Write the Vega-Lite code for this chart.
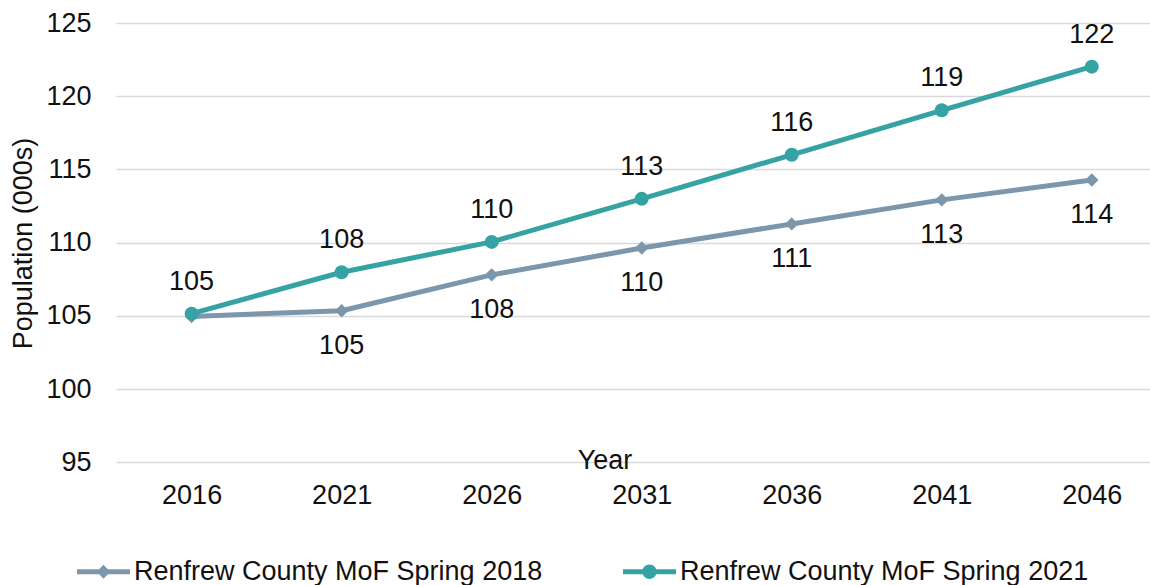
{
  "$schema": "https://vega.github.io/schema/vega-lite/v6.json",
  "width": 1034,
  "height": 439.3,
  "autosize": "none",
  "padding": {"left": 116, "top": 23, "right": 0, "bottom": 122.7},
  "background": "white",
  "config": {
    "font": "Liberation Sans",
    "view": {"stroke": null},
    "text": {"font": "Liberation Sans"}
  },
  "data": {
    "values": [
      {"year": 2016, "series": "Renfrew County MoF Spring 2018", "value": 104.96},
      {"year": 2021, "series": "Renfrew County MoF Spring 2018", "value": 105.35},
      {"year": 2026, "series": "Renfrew County MoF Spring 2018", "value": 107.8},
      {"year": 2031, "series": "Renfrew County MoF Spring 2018", "value": 109.63},
      {"year": 2036, "series": "Renfrew County MoF Spring 2018", "value": 111.28},
      {"year": 2041, "series": "Renfrew County MoF Spring 2018", "value": 112.92},
      {"year": 2046, "series": "Renfrew County MoF Spring 2018", "value": 114.28},
      {"year": 2016, "series": "Renfrew County MoF Spring 2021", "value": 105.15},
      {"year": 2021, "series": "Renfrew County MoF Spring 2021", "value": 107.98},
      {"year": 2026, "series": "Renfrew County MoF Spring 2021", "value": 110.05},
      {"year": 2031, "series": "Renfrew County MoF Spring 2021", "value": 112.99},
      {"year": 2036, "series": "Renfrew County MoF Spring 2021", "value": 116.0},
      {"year": 2041, "series": "Renfrew County MoF Spring 2021", "value": 119.04},
      {"year": 2046, "series": "Renfrew County MoF Spring 2021", "value": 122.02}
    ]
  },
  "encoding": {
    "x": {
      "field": "year",
      "type": "quantitative",
      "scale": {"domain": [2013.48, 2047.94], "nice": false, "zero": false},
      "axis": {
        "values": [2016, 2021, 2026, 2031, 2036, 2041, 2046],
        "format": "d",
        "grid": false,
        "domain": false,
        "ticks": false,
        "tickSize": 0,
        "labelPadding": 41,
        "labelBaseline": "alphabetic",
        "labelFontSize": 27,
        "labelColor": "#111111",
        "labelFont": "Liberation Sans",
        "title": "Year",
        "titleFont": "Liberation Sans",
        "titleFontSize": 27,
        "titleFontWeight": "normal",
        "titleColor": "#111111",
        "titleAnchor": null,
        "titleAlign": "center",
        "titleBaseline": "alphabetic",
        "titleX": 488.5,
        "titleY": 6
      }
    },
    "y": {
      "field": "value",
      "type": "quantitative",
      "scale": {"domain": [95, 125], "nice": false, "zero": false},
      "axis": {
        "values": [95, 100, 105, 110, 115, 120, 125],
        "grid": true,
        "gridColor": "#D9D9D9",
        "gridWidth": 1.4,
        "domain": false,
        "ticks": false,
        "tickSize": 0,
        "labelPadding": 25,
        "labelFontSize": 27,
        "labelColor": "#111111",
        "labelFont": "Liberation Sans",
        "title": "Population (000s)",
        "titleFont": "Liberation Sans",
        "titleFontSize": 27,
        "titleFontWeight": "normal",
        "titleColor": "#111111",
        "titleAngle": -90,
        "titleAlign": "center",
        "titleBaseline": "alphabetic",
        "titleX": -84.5,
        "titleY": 220
      }
    },
    "color": {
      "field": "series",
      "type": "nominal",
      "scale": {
        "domain": ["Renfrew County MoF Spring 2018", "Renfrew County MoF Spring 2021"],
        "range": ["#7C97AC", "#35A3A3"]
      },
      "legend": {
        "title": null,
        "orient": "none",
        "direction": "horizontal",
        "legendX": -39,
        "legendY": 522,
        "padding": 0,
        "columnPadding": 80,
        "symbolSize": 2809,
        "symbolStrokeWidth": 0,
        "symbolOpacity": 1,
        "labelFontSize": 27,
        "labelFont": "Liberation Sans",
        "labelColor": "#111111",
        "labelOffset": 4,
        "labelLimit": 600,
        "encode": {
          "symbols": {
            "update": {
              "fill": {"signal": "datum.value === 'Renfrew County MoF Spring 2018' ? '#7C97AC' : '#35A3A3'"},
              "fillOpacity": {"value": 1},
              "strokeWidth": {"value": 0},
              "shape": {"signal": "datum.value === 'Renfrew County MoF Spring 2018' ? 'M-1,-0.094H1V0.094H-1Z M0,-0.26L0.26,0L0,0.26L-0.26,0Z' : 'M-1,-0.094H1V0.094H-1Z M-0.27,0A0.27,0.27,0,1,1,0.27,0A0.27,0.27,0,1,1,-0.27,0Z'"}
            }
          }
        }
      }
    }
  },
  "layer": [
    {
      "mark": {"type": "line", "strokeWidth": 5, "strokeCap": "round", "strokeJoin": "round"}
    },
    {
      "transform": [
        {"filter": "datum.series === 'Renfrew County MoF Spring 2018'"}
      ],
      "mark": {"type": "point", "shape": "diamond", "filled": true, "opacity": 1, "size": 180, "strokeWidth": 0}
    },
    {
      "transform": [
        {"filter": "datum.series === 'Renfrew County MoF Spring 2021'"}
      ],
      "mark": {"type": "point", "shape": "circle", "filled": true, "opacity": 1, "size": 196, "strokeWidth": 0}
    },
    {
      "transform": [
        {"filter": "datum.series === 'Renfrew County MoF Spring 2021'"}
      ],
      "mark": {"type": "text", "fontSize": 27, "font": "Liberation Sans", "color": "#111111", "dy": -32, "baseline": "middle"},
      "encoding": {
        "text": {"field": "value", "type": "quantitative", "format": ".0f"},
        "color": {"value": "#111111"}
      }
    },
    {
      "transform": [
        {"filter": "datum.series === 'Renfrew County MoF Spring 2018' && datum.year !== 2016"}
      ],
      "mark": {"type": "text", "fontSize": 27, "font": "Liberation Sans", "color": "#111111", "dy": 35, "baseline": "middle"},
      "encoding": {
        "text": {"field": "value", "type": "quantitative", "format": ".0f"},
        "color": {"value": "#111111"}
      }
    }
  ]
}
